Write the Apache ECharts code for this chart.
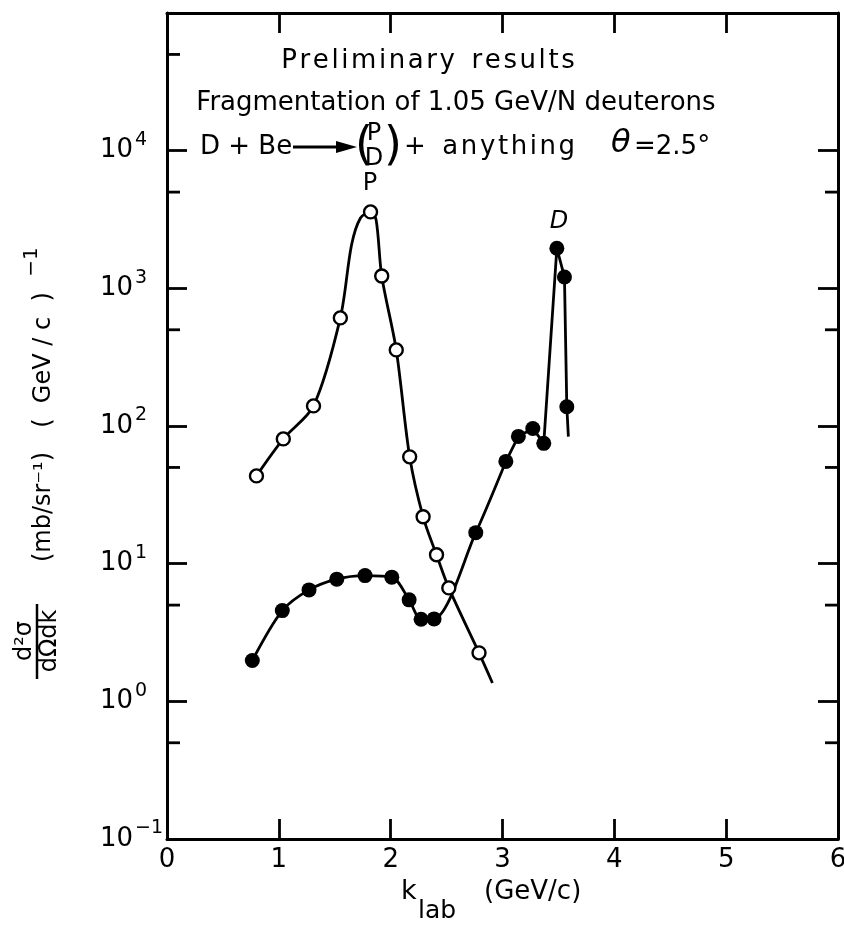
<!DOCTYPE html>
<html><head><meta charset="utf-8">
<script src="https://cdn.jsdelivr.net/npm/echarts@6/dist/echarts.min.js"></script>
<style>html,body{margin:0;padding:0;background:#fff}#c{width:844px;height:935px}</style>
</head><body><div id="c"></div>
<script>
// ---- data ----
const xTickLabels = ['0','1','2','3','4','5','6'];
const yTickExps = [-1, 0, 1, 2, 3, 4];
const yMinorTicks = [0.5, 5, 50, 500, 5000, 50000];

// open circles: protons (P)
const pK   = [0.80, 1.04, 1.31, 1.55, 1.82, 1.92, 2.05, 2.17, 2.29, 2.41, 2.52, 2.79];
const pVal = [43.4, 80.6, 140, 610, 3590, 1230, 357, 59.7, 21.9, 11.6, 6.67, 2.25];
// hand-drawn curve through the P points
const pCurveK   = [0.80, 1.04, 1.31, 1.55, 1.65, 1.73, 1.82, 1.87, 1.92, 2.05, 2.17, 2.29, 2.41, 2.52, 2.79, 2.91];
const pCurveVal = [43.4, 80.6, 140, 610, 2065, 3245, 3590, 3140, 1230, 357, 59.7, 21.9, 11.6, 6.67, 2.25, 1.36];

// filled circles: deuterons (D)
const dK   = [0.763, 1.031, 1.270, 1.518, 1.771, 2.010, 2.165, 2.272, 2.388, 2.761, 3.030, 3.142, 3.271, 3.369, 3.486, 3.554, 3.575];
const dVal = [1.98, 4.56, 6.45, 7.72, 8.19, 7.98, 5.46, 3.95, 3.97, 16.8, 55.3, 84, 96, 74.8, 1955, 1210, 138];
// drawn curve: smooth part and straight (spike) part
const dCurveSmoothK   = [0.763, 1.031, 1.270, 1.518, 1.771, 2.010, 2.165, 2.272, 2.388, 2.761, 3.030];
const dCurveSmoothVal = [1.98, 4.56, 6.45, 7.72, 8.19, 7.98, 5.46, 3.95, 3.97, 16.8, 55.3];
const dCurveSpikeK    = [3.030, 3.142, 3.271, 3.369, 3.486, 3.554, 3.575, 3.589];
const dCurveSpikeVal  = [55.3, 84, 96, 74.8, 1955, 1210, 138, 83.8];

const F = '"DejaVu Sans", sans-serif';
const HS = '\u200A'; // hair space, used to mimic the wide lettering of the original
const spread = s => s.split('').join(HS);
const zip = (a, b) => a.map((v, i) => [v, b[i]]);

const chart = echarts.init(document.getElementById('c'), null, {renderer: 'canvas'});

const axisLine = {show: true, onZero: false, lineStyle: {color: '#000', width: 3}};
const majorTick = {show: true, inside: true, length: 20, lineStyle: {color: '#000', width: 2.8}};

function yLabel(v) {
  const e = Math.round(Math.log10(v));
  if (yTickExps.indexOf(e) < 0) return '';
  return '{b|10}{s|' + (e < 0 ? '−' + (-e) : e) + '}';
}

function txt(x, y, text, size, opts) {
  return Object.assign({type: 'text', x: x, y: y, silent: true,
    style: Object.assign({text: text, fontSize: size, fontFamily: F, fill: '#000',
      textAlign: 'left', textVerticalAlign: 'middle'}, (opts && opts.style) || {})},
    opts && opts.rotation !== undefined ? {rotation: opts.rotation} : {});
}

const option = {
  backgroundColor: '#fff',
  animation: false,
  grid: {left: 167, right: 6, top: 13, bottom: 96, show: false, outerBoundsMode: 'none', containLabel: false},
  xAxis: [
    {type: 'value', min: 0, max: 6, interval: 1, position: 'bottom',
     axisLine: axisLine, axisTick: majorTick, splitLine: {show: false},
     axisLabel: {margin: 8, color: '#000', fontSize: 26, fontFamily: F,
       formatter: v => xTickLabels[Math.round(v)] || ''}},
    {type: 'value', min: 0, max: 6, interval: 1, position: 'top',
     axisLine: axisLine, axisTick: majorTick, splitLine: {show: false},
     axisLabel: {show: false}}
  ],
  yAxis: [
    {type: 'log', logBase: 10, min: 0.1, max: 100000, interval: 1, position: 'left',
     axisLine: axisLine, axisTick: majorTick, splitLine: {show: false}, minorTick: {show: false},
     axisLabel: {margin: 67, align: 'left', color: '#000', formatter: yLabel,
       rich: {
         b: {fontSize: 26, fontFamily: F, color: '#000', lineHeight: 40},
         s: {fontSize: 19, fontFamily: F, color: '#000', lineHeight: 19, verticalAlign: 'top', padding: [0, 0, 0, 2]}
       }}},
    {type: 'log', logBase: 10, min: 0.1, max: 100000, interval: 1, position: 'right',
     axisLine: axisLine, axisTick: majorTick, splitLine: {show: false}, minorTick: {show: false},
     axisLabel: {show: false}}
  ],
  series: [
    {type: 'custom', xAxisIndex: 0, yAxisIndex: 0, silent: true, clip: false, z: 5,
     data: yMinorTicks.map(v => [0, v]),
     renderItem: function (params, api) {
       const v = api.value(1);
       const pl = api.coord([0, v]);
       const pr = api.coord([6, v]);
       const kids = [{type: 'line', shape: {x1: pl[0], y1: pl[1], x2: pl[0] + 13, y2: pl[1]},
                      style: {stroke: '#000', lineWidth: 2.8}}];
       if (v < 10000) kids.push({type: 'line', shape: {x1: pr[0], y1: pr[1], x2: pr[0] - 13, y2: pr[1]},
                      style: {stroke: '#000', lineWidth: 2.8}});
       return {type: 'group', children: kids};
     }},
    {name: 'P curve', type: 'line', data: zip(pCurveK, pCurveVal), smooth: 0.3, showSymbol: false,
     lineStyle: {color: '#000', width: 2.8}, z: 3},
    {name: 'D curve', type: 'line', data: zip(dCurveSmoothK, dCurveSmoothVal), smooth: 0.3, showSymbol: false,
     lineStyle: {color: '#000', width: 2.8}, z: 3},
    {name: 'D spike', type: 'line', data: zip(dCurveSpikeK, dCurveSpikeVal), smooth: false, showSymbol: false,
     lineStyle: {color: '#000', width: 2.8}, z: 3},
    {name: 'P', type: 'scatter', data: zip(pK, pVal), symbol: 'circle', symbolSize: 13,
     itemStyle: {color: '#fff', borderColor: '#000', borderWidth: 2.4, opacity: 1}, z: 10},
    {name: 'D', type: 'scatter', data: zip(dK, dVal), symbol: 'circle', symbolSize: 15,
     itemStyle: {color: '#000', opacity: 1}, z: 10}
  ],
  graphic: [
    // title block
    txt(428, 61, spread('Preliminary') + '  ' + spread('results'), 26, {style: {textAlign: 'center'}}),
    txt(456, 103, 'Fragmentation of 1.05 GeV/N deuterons', 26, {style: {textAlign: 'center'}}),
    txt(200, 147, 'D + Be', 26),
    {type: 'line', silent: true, shape: {x1: 293, y1: 147, x2: 342, y2: 147}, style: {stroke: '#000', lineWidth: 2.8}},
    {type: 'polygon', silent: true, shape: {points: [[336, 141], [357, 147], [336, 153]]}, style: {fill: '#000'}},
    txt(355, 147, '(', 46),
    txt(374, 134, 'P', 24, {style: {textAlign: 'center'}}),
    txt(374, 159, 'D', 24, {style: {textAlign: 'center'}}),
    txt(384, 147, ')', 46),
    txt(404, 147, '+  ' + spread('anything'), 26),
    txt(611, 144, 'θ', 32, {style: {fontStyle: 'italic'}}),
    txt(634, 147, '=2.5°', 26),
    // peak labels
    txt(370, 184, 'P', 24, {style: {textAlign: 'center'}}),
    txt(559, 222, 'D', 24, {style: {textAlign: 'center', fontStyle: 'italic'}}),
    // x axis name
    txt(401, 892, 'k', 27),
    txt(418, 911, 'lab', 25),
    txt(484, 892, '(GeV/c)', 26),
    // y axis name (rotated)
    txt(25, 641, 'd²σ', 24, {rotation: Math.PI / 2, style: {textAlign: 'center'}}),
    {type: 'line', silent: true, shape: {x1: 37, y1: 604, x2: 37, y2: 679}, style: {stroke: '#000', lineWidth: 2.5}},
    txt(50, 641, 'dΩdk', 24, {rotation: Math.PI / 2, style: {textAlign: 'center'}}),
    txt(44, 507, '(mb/sr⁻¹)', 24, {rotation: Math.PI / 2, style: {textAlign: 'center'}}),
    txt(44, 360, '(  GeV / c  )', 24, {rotation: Math.PI / 2, style: {textAlign: 'center'}}),
    txt(32, 262, '−1', 20, {rotation: Math.PI / 2, style: {textAlign: 'center'}})
  ]
};
chart.setOption(option);
</script>
</body></html>
